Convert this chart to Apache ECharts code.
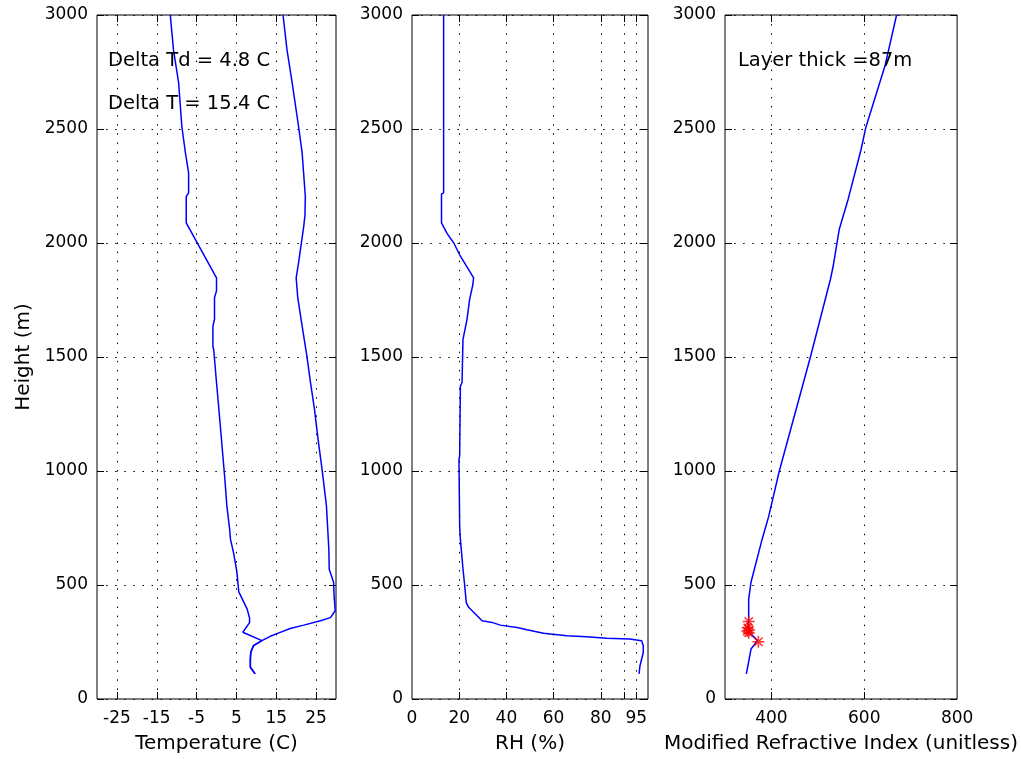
<!DOCTYPE html>
<html>
<head>
<meta charset="utf-8">
<script src="https://cdn.jsdelivr.net/npm/echarts@6/dist/echarts.min.js"></script>
<style>
html,body{margin:0;padding:0;background:#fff;}
#chart{width:1021px;height:759px;}
</style>
</head>
<body>
<div id="chart"></div>
<script>
// ---- data: [value, height (m)] ----
const dewpointProfile = [
  [-11.6,3000],[-10.8,2847],[-9.5,2702],[-8.7,2511],[-7.8,2395],[-7.0,2307],[-7.0,2220],
  [-7.6,2204],[-7.6,2088],[0.0,1847],[0.0,1790],[-0.5,1760],[-0.5,1665],[-0.9,1635],
  [-0.9,1545],[-0.7,1533],[0.0,1388],[0.6,1270],[1.1,1169],[1.6,1066],[2.1,964],
  [2.6,847],[3.3,745],[3.5,701],[4.3,640],[5.1,560],[5.6,470],[7.7,394],[8.3,355],
  [8.3,335],[6.6,293],[11.4,256],[9.3,234],[8.6,205],[8.5,175],[8.5,139],[9.7,110]
];
const temperatureProfile = [
  [16.7,3000],[17.7,2847],[19.0,2702],[20.6,2511],[21.5,2395],[22.3,2204],[22.2,2120],
  [21.9,2073],[20.6,1913],[20.0,1847],[20.4,1760],[21.5,1635],[22.7,1503],[23.6,1388],
  [24.6,1270],[25.5,1139],[26.5,1007],[27.6,847],[28.2,657],[28.3,569],[29.4,512],
  [29.5,460],[29.8,387],[28.6,357],[26.1,343],[21.9,324],[18.5,309],[16.0,292],
  [13.5,275],[11.4,256],[9.3,234],[8.6,205],[8.5,175],[8.5,139],[9.7,110]
];
const rhProfile = [
  [13.4,3000],[13.4,2220],[12.5,2215],[12.5,2088],[14.9,2041],[17.7,2000],[20.5,1942],
  [24.0,1883],[26.1,1847],[25.8,1818],[24.4,1752],[23.3,1664],[21.6,1577],[21.2,1387],
  [20.5,1372],[20.2,1066],[19.9,1051],[20.2,759],[20.5,701],[21.6,570],[22.2,511],
  [23.0,423],[24.0,402],[29.7,343],[33.9,336],[37.4,324],[44.5,314],[48.7,304],
  [55.7,288],[65.6,277],[74.0,273],[82.5,266],[92.3,263],[97.3,256],[98.0,234],
  [98.0,204],[96.6,146],[96.2,110]
];
const refractiveProfile = [
  [669.6,3000],[645,2780],[603,2504],[593,2409],[565,2190],[546,2059],[533,1898],
  [527,1840],[484,1500],[417,1000],[394,800],[380,701],[356,512],[351,438],[351,343],
  [349,299],[370,256],[356,219],[352,175],[346,110]
];
const ductPoints = [
  [351,340],[349,312],[352,303],[348,298],[351,291],[372,251]
];

// ---- axes / ticks ----
const tempRange = [-30, 30];
const tempTicks = [-25,-15,-5,5,15,25];
const rhRange = [0, 100];
const rhTicks = [20,40,60,80,90,95];
const rhLabels = [0,20,40,60,80,95];
const refRange = [300, 800];
const refTicks = [400,600];
const refLabels = [400,600,800];
const heightRange = [0, 3000];
const heightStep = 500;

const texts = {
  xNames: ['Temperature (C)', 'RH (%)', 'Modified Refractive Index (unitless)'],
  yName: 'Height (m)',
  deltaTd: 'Delta Td = 4.8 C',
  deltaT: 'Delta T = 15.4 C',
  layer: 'Layer thick =87m'
};

const FONT = 'DejaVu Sans';
const dotted = {color:'#000', width:1, type:[1.5,7.6]};

const grids = [
  {left:97, top:15, width:239, height:685},
  {left:412, top:15, width:236, height:685},
  {left:725, top:15, width:239, height:685}
].map(g => Object.assign(g, {show:true, borderColor:'#000', borderWidth:1, backgroundColor:'#fff'}));

const xRanges = [tempRange, rhRange, refRange];
const xTickSets = [tempTicks, rhTicks, refTicks];
const xLabelSets = [tempTicks, rhLabels, refLabels];
const plain = v => String(v);

const xAxes = [], yAxes = [];
for (let i = 0; i < 3; i++) {
  xAxes.push({
    type:'value', gridIndex:i, position:'bottom', min:xRanges[i][0], max:xRanges[i][1],
    name:texts.xNames[i], nameLocation:'middle', nameGap:35,
    nameTextStyle:{fontFamily:FONT, fontSize:20, color:'#000'},
    axisLine:{show:false, onZero:false},
    axisTick:{show:true, inside:true, length:7, customValues:xTickSets[i], lineStyle:{color:'#000'}},
    axisLabel:{show:true, customValues:xLabelSets[i], margin:11, fontFamily:FONT, fontSize:17, color:'#000', formatter:plain},
    splitLine:{show:false}
  });
  xAxes.push({
    type:'value', gridIndex:i, position:'top', min:xRanges[i][0], max:xRanges[i][1],
    axisLine:{show:false, onZero:false},
    axisTick:{show:true, inside:true, length:7, customValues:xTickSets[i], lineStyle:{color:'#000'}},
    axisLabel:{show:false}, splitLine:{show:false}
  });
  yAxes.push({
    type:'value', gridIndex:i, position:'left', min:heightRange[0], max:heightRange[1], interval:heightStep,
    name: i === 0 ? texts.yName : '', nameLocation:'middle', nameGap:63,
    nameTextStyle:{fontFamily:FONT, fontSize:20, color:'#000'},
    axisLine:{show:false, onZero:false},
    axisTick:{show:true, inside:true, length:7, lineStyle:{color:'#000'}},
    axisLabel:{show:true, margin:9, fontFamily:FONT, fontSize:17, color:'#000', formatter:plain},
    splitLine:{show:true, lineStyle:dotted}
  });
  yAxes.push({
    type:'value', gridIndex:i, position:'right', min:heightRange[0], max:heightRange[1], interval:heightStep,
    axisLine:{show:false, onZero:false},
    axisTick:{show:true, inside:true, length:7, lineStyle:{color:'#000'}},
    axisLabel:{show:false}, splitLine:{show:false}
  });
}

function vGrid(values) {
  return {
    silent:true, symbol:['none','none'], label:{show:false},
    lineStyle:dotted, animation:false,
    data: values.map(v => ({xAxis:v}))
  };
}

const blue = '#0000ff';
function profile(data, gi, withGrid) {
  const s = {
    type:'line', data:data, xAxisIndex:gi*2, yAxisIndex:gi*2,
    showSymbol:false, symbol:'none', lineStyle:{color:blue, width:1.5}, z:3
  };
  if (withGrid) s.markLine = vGrid(withGrid);
  return s;
}

const series = [
  profile(dewpointProfile, 0, tempTicks),
  profile(temperatureProfile, 0),
  profile(rhProfile, 1, rhTicks),
  profile(refractiveProfile, 2, refTicks),
  {
    type:'scatter', data:ductPoints, xAxisIndex:4, yAxisIndex:4, z:4,
    symbol:'path://M5,0L5,10M0,5L10,5M1.5,1.5L8.5,8.5M1.5,8.5L8.5,1.5',
    symbolSize:12,
    itemStyle:{color:'none', borderColor:'#ff0000', borderWidth:1.5}
  }
];

const textStyle = {fontFamily:FONT, fontSize:19.5, fill:'#000'};
const graphic = [
  {type:'text', left:108, top:51, style:Object.assign({text:texts.deltaTd}, textStyle), z:10},
  {type:'text', left:108, top:94, style:Object.assign({text:texts.deltaT}, textStyle), z:10},
  {type:'text', left:738, top:51, style:Object.assign({text:texts.layer}, textStyle), z:10}
];

const chart = echarts.init(document.getElementById('chart'), null, {renderer:'canvas'});
chart.setOption({
  animation:false,
  backgroundColor:'#fff',
  grid:grids,
  xAxis:xAxes,
  yAxis:yAxes,
  series:series,
  graphic:graphic
});
</script>
</body>
</html>
